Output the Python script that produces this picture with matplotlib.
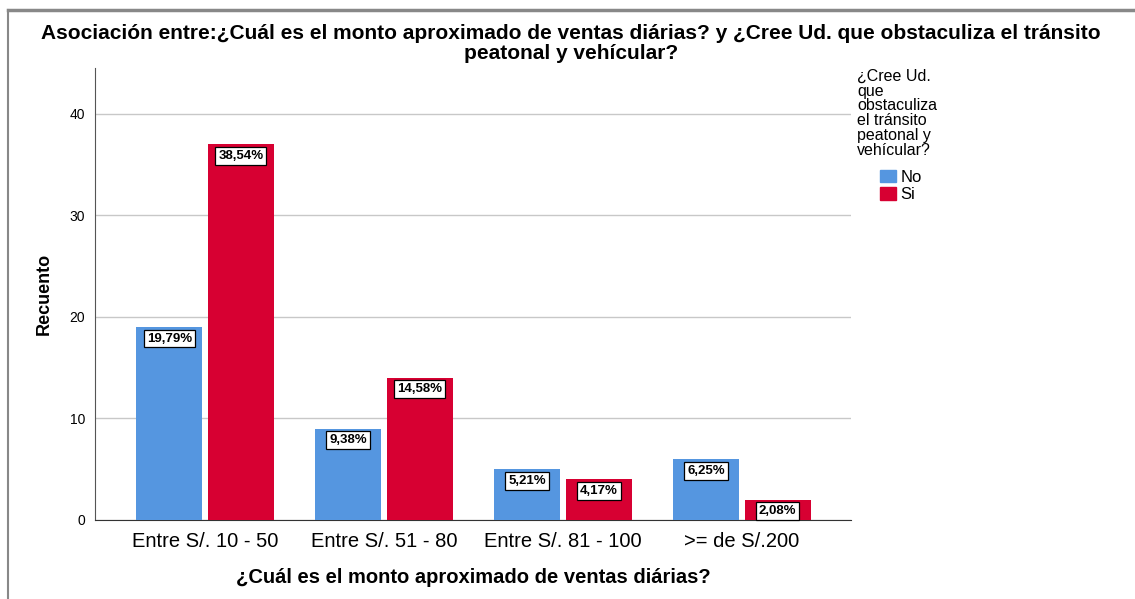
import numpy as np
import matplotlib
matplotlib.use('Agg')
import matplotlib.pyplot as plt
from matplotlib.lines import Line2D
from matplotlib.patches import Patch

plt.rcParams['font.family'] = ['Liberation Sans', 'DejaVu Sans']

categories = ['Entre S/. 10 - 50', 'Entre S/. 51 - 80', 'Entre S/. 81 - 100', '>= de S/.200']
no_counts = [19, 9, 5, 6]
si_counts = [37, 14, 4, 2]
no_pct = ['19,79%', '9,38%', '5,21%', '6,25%']
si_pct = ['38,54%', '14,58%', '4,17%', '2,08%']

blue = '#5596E0'
red = '#D70032'

fig = plt.figure(figsize=(11.35, 5.99), dpi=100)
ax = fig.add_axes([0.0837, 0.1319, 0.6661, 0.7546])

x = np.arange(len(categories))
w = 0.37
ax.bar(x - 0.2, no_counts, w, color=blue, zorder=3)
ax.bar(x + 0.2, si_counts, w, color=red, zorder=3)

for xi, v, t in zip(x - 0.2, no_counts, no_pct):
    ax.annotate(t, (xi, v), xytext=(0, -4), textcoords='offset points',
                ha='center', va='top', fontsize=9.5, fontweight='bold', zorder=4,
                bbox=dict(boxstyle='square,pad=0.22', fc='white', ec='black', lw=0.9))
for xi, v, t in zip(x + 0.2, si_counts, si_pct):
    ax.annotate(t, (xi, v), xytext=(0, -4), textcoords='offset points',
                ha='center', va='top', fontsize=9.5, fontweight='bold', zorder=4,
                bbox=dict(boxstyle='square,pad=0.22', fc='white', ec='black', lw=0.9))

ax.set_xlim(-0.615, 3.61)
ax.set_ylim(0, 44.5)
ax.set_yticks([0, 10, 20, 30, 40])
ax.set_xticks(x)
ax.set_xticklabels(categories, fontsize=14.5)
ax.tick_params(axis='y', labelsize=10, length=0, pad=7)
ax.tick_params(axis='x', length=0, pad=9)
ax.grid(axis='y', color='#c8c8c8', lw=1, zorder=0)
ax.spines['top'].set_visible(False)
ax.spines['right'].set_visible(False)
ax.spines['left'].set_color('#555555')
ax.spines['bottom'].set_color('#333333')

ax.set_ylabel('Recuento', fontsize=13, fontweight='bold', labelpad=12)
ax.set_xlabel('¿Cuál es el monto aproximado de ventas diárias?', fontsize=14.5,
              fontweight='bold', labelpad=12)

fig.text(0.503, 0.928, 'Asociación entre:¿Cuál es el monto aproximado de ventas diárias? y ¿Cree Ud. que obstaculiza el tránsito\npeatonal y vehícular?',
         ha='center', va='center', fontsize=15, fontweight='bold', linespacing=1.05)

fig.text(0.755, 0.885, '¿Cree Ud.\nque\nobstaculiza\nel tránsito\npeatonal y\nvehícular?',
         ha='left', va='top', fontsize=11.5, linespacing=0.98)
handles = [Patch(color=blue, label='No'), Patch(color=red, label='Si')]
fig.legend(handles=handles, loc='upper left', bbox_to_anchor=(0.775, 0.717),
           frameon=False, fontsize=12, handlelength=0.96, handleheight=0.8,
           handletextpad=0.3, labelspacing=0.15, borderpad=0, borderaxespad=0)

# outer frame (top and left)
fig.add_artist(Line2D([0.007, 1.0], [0.983, 0.983], color='#888888', lw=2.5))
fig.add_artist(Line2D([0.007, 0.007], [0.0, 0.983], color='#888888', lw=1.5))

fig.savefig('out.png', dpi=100)
